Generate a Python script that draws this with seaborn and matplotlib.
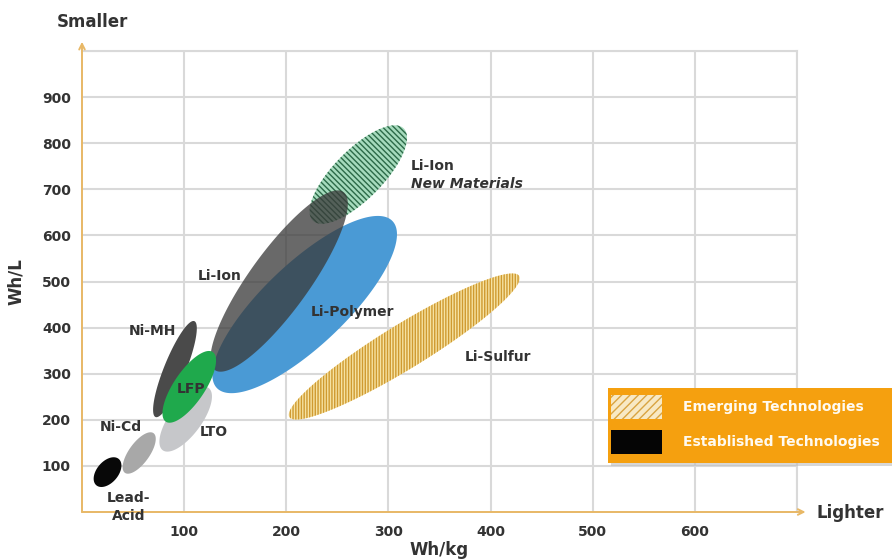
import numpy as np
import matplotlib
matplotlib.use("Agg")
import matplotlib.pyplot as plt
import seaborn as sns
from matplotlib.patches import Rectangle, Patch

# ---------------- data ----------------
techs = ["Li-Sulfur", "Li-Polymer", "Li-Ion New Materials", "Li-Ion",
         "Lead-Acid", "Ni-Cd", "Ni-MH", "LTO", "LFP"]
# major-axis end points of each technology's region (Wh/kg, Wh/L)
wh_kg_lo = [203, 132, 226, 130, 14, 42, 72, 79, 82]
wh_kg_hi = [428, 304, 315, 256, 36, 70, 110, 124, 128]
wh_l_lo = [206, 269, 632, 308, 58, 85, 206, 134, 196]
wh_l_hi = [512, 631, 832, 694, 115, 171, 414, 269, 347]
# minor/major axis ratio of each region
spread = [0.165, 0.34, 0.38, 0.27, 0.62, 0.42, 0.21, 0.41, 0.37]

label_text = ["Li-Ion", "Ni-MH", "LFP", "Ni-Cd", "LTO", "Lead-\nAcid",
              "Li-Polymer", "Li-Sulfur"]
label_x = [135, 68.5, 106.7, 38.2, 129, 46, 265, 407]
label_y = [512, 393, 267, 184, 173.5, 11, 434, 336]

x_ticks = [100, 200, 300, 400, 500, 600, 700]
x_tick_labels = ["100", "200", "300", "400", "500", "600", ""]
y_ticks = [100, 200, 300, 400, 500, 600, 700, 800, 900, 1000]
y_tick_labels = ["100", "200", "300", "400", "500", "600", "700", "800", "900", ""]

legend_labels = ["Emerging Technologies", "Established Technologies"]

# ---------------- styles ----------------
styles = {
    "Li-Sulfur": dict(fc="#f6e2a2", hc="#cf9a30", hatch="|" * 6, alpha=1.0),
    "Li-Polymer": dict(fc="#4a9ad5", hc=None, hatch=None, alpha=1.0),
    "Li-Ion New Materials": dict(fc="#a6dbbd", hc="#2c6a48", hatch="\\" * 6, alpha=1.0),
    "Li-Ion": dict(fc="#3a3a3a", hc=None, hatch=None, alpha=0.76),
    "Lead-Acid": dict(fc="#080808", hc=None, hatch=None, alpha=1.0),
    "Ni-Cd": dict(fc="#a8a8a8", hc=None, hatch=None, alpha=1.0),
    "Ni-MH": dict(fc="#4a4a4a", hc=None, hatch=None, alpha=1.0),
    "LTO": dict(fc="#c6c7ca", hc=None, hatch=None, alpha=1.0),
    "LFP": dict(fc="#1fa94c", hc=None, hatch=None, alpha=1.0),
}

TXT = "#333333"
AXC = "#e8b866"
GRID = "#d9d9d9"

sns.set_theme(style="white")
plt.rcParams["font.family"] = ["DejaVu Sans"]
plt.rcParams["hatch.linewidth"] = 1.0

W, H = 892, 560
fig = plt.figure(figsize=(W / 100, H / 100), dpi=100)
ax = fig.add_axes([82 / W, 48 / H, 715 / W, 461 / H])
ax.set_xlim(0, 700)
ax.set_ylim(0, 1000)

ax.set_xticks(x_ticks)
ax.set_xticklabels(x_tick_labels)
ax.set_yticks(y_ticks)
ax.set_yticklabels(y_tick_labels)
ax.tick_params(axis="both", length=0, labelsize=10, labelcolor=TXT)
ax.tick_params(axis="x", pad=9)
ax.tick_params(axis="y", pad=8)
for lab in ax.get_xticklabels() + ax.get_yticklabels():
    lab.set_fontweight("bold")
ax.grid(True, color=GRID, linewidth=1.5)
ax.set_axisbelow(True)
for side in ["left", "bottom"]:
    ax.spines[side].set_visible(False)
for side in ["top", "right"]:
    ax.spines[side].set_color(GRID)
    ax.spines[side].set_linewidth(1.5)

ax.set_xlabel("Wh/kg", fontsize=12, fontweight="bold", color=TXT, labelpad=2)
ax.set_ylabel("Wh/L", fontsize=12, fontweight="bold", color=TXT, labelpad=12)

# orange axis arrows
ax.annotate("", xy=(0, 1.02), xytext=(0, 0), xycoords="axes fraction",
            arrowprops=dict(arrowstyle="->", color=AXC, lw=1.4,
                            mutation_scale=10, shrinkA=0, shrinkB=0),
            annotation_clip=False, zorder=5)
ax.annotate("", xy=(1.012, 0), xytext=(0, 0), xycoords="axes fraction",
            arrowprops=dict(arrowstyle="->", color=AXC, lw=1.4,
                            mutation_scale=10, shrinkA=0, shrinkB=0),
            annotation_clip=False, zorder=5)


def ellipse_xy(x0, y0, x1, y1, r, n=240):
    T = ax.transData
    p0 = T.transform((x0, y0))
    p1 = T.transform((x1, y1))
    c = (p0 + p1) / 2
    u = (p1 - p0) / 2
    v = r * np.array([-u[1], u[0]])
    t = np.linspace(0, 2 * np.pi, n)
    pts = c + np.outer(np.cos(t), u) + np.outer(np.sin(t), v)
    d = T.inverted().transform(pts)
    return d[:, 0], d[:, 1]


for i, name in enumerate(techs):
    st = styles[name]
    xs, ys = ellipse_xy(wh_kg_lo[i], wh_l_lo[i], wh_kg_hi[i], wh_l_hi[i], spread[i])
    if st["hatch"]:
        ax.fill(xs, ys, facecolor=st["fc"], edgecolor=st["hc"], hatch=st["hatch"],
                linewidth=0, zorder=2 + i * 0.1)
    else:
        ax.fill(xs, ys, facecolor=st["fc"], alpha=st["alpha"], linewidth=0,
                zorder=2 + i * 0.1)

# region labels
for t, x, y in zip(label_text, label_x, label_y):
    ax.text(x, y, t, ha="center", va="center", fontsize=10, fontweight="bold",
            color=TXT, zorder=10, clip_on=False, linespacing=1.35)
ax.text(322, 750.5, "Li-Ion", ha="left", va="center", fontsize=10,
        fontweight="bold", color=TXT, zorder=10)
ax.text(322, 711.5, "New Materials", ha="left", va="center", fontsize=10,
        fontweight="bold", fontstyle="italic", color=TXT, zorder=10)

# direction words
fig.text(92 / W, 1 - 22 / H, "Smaller", ha="center", va="center", fontsize=12,
         fontweight="bold", color=TXT)
fig.text(850 / W, 1 - 513 / H, "Lighter", ha="center", va="center", fontsize=12,
         fontweight="bold", color=TXT)

# legend box
shadow = Rectangle((611 / W, 1 - 466 / H), (W - 611) / W, 75 / H,
                   transform=fig.transFigure, facecolor="#bdbdbd", edgecolor="none",
                   alpha=0.6, zorder=20)
box = Rectangle((608 / W, 1 - 463 / H), (W - 608) / W, 75 / H,
                transform=fig.transFigure, facecolor="#f5a00f", edgecolor="none",
                zorder=21)
fig.patches.extend([shadow, box])
handles = [Patch(facecolor="#f8e9c4", edgecolor="#d9a441", hatch="////", linewidth=0),
           Patch(facecolor="#050505", edgecolor="none")]
leg = fig.legend(handles, legend_labels, loc="upper left",
                 bbox_to_anchor=(608 / W, 1 - 392 / H), frameon=False,
                 fontsize=10, handlelength=3.65, handleheight=2.28,
                 handletextpad=1.5, labelspacing=0.76, borderpad=0.22,
                 borderaxespad=0)
leg.set_zorder(22)
for txt in leg.get_texts():
    txt.set_color("#fffaf0")
    txt.set_fontweight("bold")

fig.savefig("out.png", dpi=100)
